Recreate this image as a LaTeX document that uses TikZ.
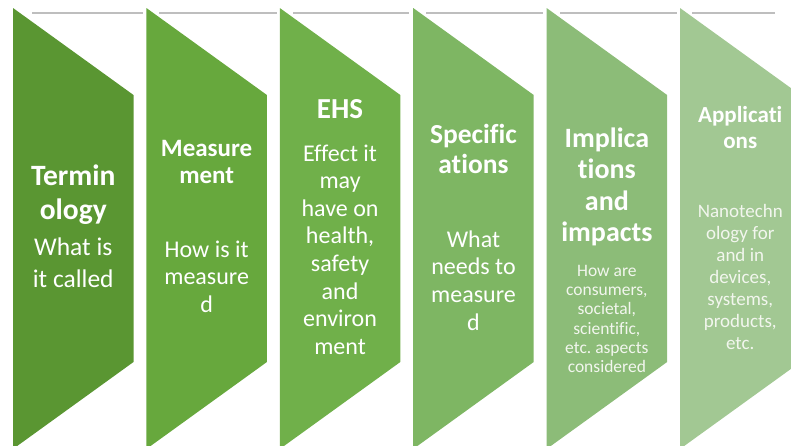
\documentclass[tikz,border=0pt]{standalone}
\usepackage{fontspec}
\setmainfont{Carlito}[Ligatures={NoCommon,NoContextual}]
\frenchspacing
\usetikzlibrary{positioning}
\definecolor{greenA}{HTML}{5A9632}
\definecolor{greenB}{HTML}{67A83D}
\definecolor{greenC}{HTML}{70B04A}
\definecolor{greenD}{HTML}{7EB663}
\definecolor{greenE}{HTML}{8CBC78}
\definecolor{greenF}{HTML}{A2C893}
\definecolor{ruleGray}{HTML}{BEBEBE}
\definecolor{paleText}{HTML}{F2F6EE}
\newcommand{\fs}[2]{\fontsize{#1}{#2}\selectfont}
\tikzset{
	%Define style for the green bands
	band/.style={fill=#1},
	%Define style for the thin rules on top
	topRule/.style={draw=ruleGray, line width=1.1pt},
	%Define style for headings
	headText/.style={
		text=white,
		align=center,
		inner sep=0pt},
	% Define style for descriptions
	bodyText/.style={
		text=white,
		align=center,
		inner sep=0pt}
}

\begin{document}
\begin{tikzpicture}[x=1pt,y=-1pt]
		\useasboundingbox (0,0) rectangle (791,445);
		\clip (0,0) rectangle (791,445);
		
		%bands
		\foreach \i/\col in {0/greenA,1/greenB,2/greenC,3/greenD,4/greenE,5/greenF}{
			\pgfmathsetmacro{\L}{13+133.4*\i}
			\fill[band=\col] (\L,8) -- ++(120.5,87) -- ++(0,267) -- ++(-120.5,87) -- cycle;
		}
		
		%rules
		\foreach \a/\b in {32/143,159/277,293/409,426/543,560/677,692/775}
			\draw[topRule] (\a,13) -- (\b,13);
		
		%nodes
		\node[headText, font=\fs{29.5}{34}\bfseries] (termHead) at (73.25,195) {Termin\\ology};
		\node[bodyText, font=\fs{25.5}{32}] (termBody) at (73.25,262.5) {What is\\it called};
		
		\node[headText, font=\fs{25}{27}\bfseries] (measHead) at (206.65,162) {Measure\\ment};
		\node[bodyText, font=\fs{24}{27.5}] (measBody) at (206.65,276.5) {How is it\\measure\\d};
		
		\node[headText, font=\fs{29}{30}\bfseries] (ehsHead) at (340.05,109.5) {EHS};
		\node[bodyText, font=\fs{24}{27.6}] (ehsBody) at (340.05,249.5) {Effect it\\may\\have on\\health,\\safety\\and\\environ\\ment};
		
		\node[headText, font=\fs{27.5}{30}\bfseries] (specHead) at (473.45,148.5) {Specific\\ations};
		\node[bodyText, font=\fs{24}{27.7}] (specBody) at (473.45,280.5) {What\\needs to\\measure\\d};
		
		\node[headText, font=\fs{28}{31.3}\bfseries] (implHead) at (606.85,187) {Implica\\tions\\and\\impacts};
		\node[bodyText, text=paleText, font=\fs{17.5}{19.2}] (implBody) at (606.85,319) {How are\\consumers,\\societal,\\scientific,\\etc. aspects\\considered};
		
		\node[headText, font=\fs{23}{26}\bfseries] (applHead) at (740.25,127.5) {Applicati\\ons};
		\node[bodyText, text=paleText, font=\fs{19}{22}] (applBody) at (740.25,276.5) {Nanotechn\\ology for\\and in\\devices,\\systems,\\products,\\etc.};
		
\end{tikzpicture}
\end{document}
